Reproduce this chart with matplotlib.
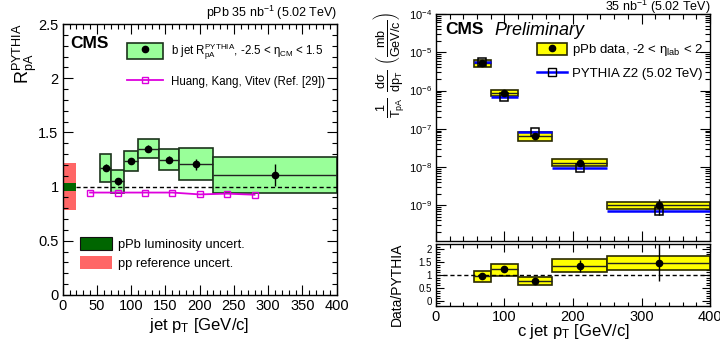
import matplotlib
matplotlib.use('Agg')
import matplotlib.pyplot as plt
import numpy as np
from matplotlib.patches import Patch
from matplotlib.lines import Line2D
from matplotlib.ticker import MultipleLocator, FuncFormatter, LogLocator, NullFormatter

plt.rcParams['font.family'] = ['Liberation Sans', 'DejaVu Sans']
plt.rcParams['mathtext.fontset'] = 'custom'
plt.rcParams['mathtext.rm'] = 'Liberation Sans'
plt.rcParams['mathtext.it'] = 'Liberation Sans:italic'
plt.rcParams['mathtext.bf'] = 'Liberation Sans:bold'
plt.rcParams['mathtext.sf'] = 'Liberation Sans'
plt.rcParams['mathtext.default'] = 'rm'

# ---------------- data: left panel (b jet RpA) ----------------
b_bin_lo = np.array([55, 70, 90, 110, 140, 170, 220])
b_bin_hi = np.array([70, 90, 110, 140, 170, 220, 400])
b_rpa = np.array([1.176, 1.048, 1.238, 1.351, 1.250, 1.207, 1.106])
b_sys_lo = np.array([1.045, 0.940, 1.143, 1.262, 1.149, 1.057, 0.937])
b_sys_hi = np.array([1.305, 1.149, 1.333, 1.437, 1.345, 1.357, 1.271])
b_stat = np.array([0.03, 0.03, 0.03, 0.03, 0.03, 0.05, 0.10])

theory_pt = np.array([40, 80, 120, 160, 200, 240, 280])
theory_rpa = np.array([0.945, 0.945, 0.945, 0.945, 0.928, 0.935, 0.925])

lumi_unc = 0.036
pp_ref_unc = 0.22
unc_band_pt = [0, 20]

# ---------------- data: right panel (c jet spectrum) ----------------
c_bin_lo = np.array([55, 80, 120, 170, 250])
c_bin_hi = np.array([80, 120, 170, 250, 400])
c_data = np.array([5.2e-6, 8.4e-7, 6.3e-8, 1.3e-8, 1.02e-9])
c_sys_lo = np.array([4.1e-6, 7.1e-7, 4.9e-8, 1.07e-8, 7.9e-10])
c_sys_hi = np.array([6.2e-6, 1.03e-6, 8.3e-8, 1.58e-8, 1.2e-9])
c_stat = np.array([0.2e-6, 0.3e-7, 0.3e-8, 0.15e-8, 0.45e-9])
c_pythia = np.array([5.5e-6, 6.9e-7, 8.2e-8, 9.6e-9, 6.95e-10])

ratio = np.array([0.95, 1.22, 0.76, 1.36, 1.47])
ratio_sys_lo = np.array([0.74, 0.97, 0.60, 1.12, 1.18])
ratio_sys_hi = np.array([1.14, 1.43, 0.91, 1.62, 1.74])
ratio_stat = np.array([0.10, 0.06, 0.05, 0.24, 0.72])

W, H = 720, 354
fig = plt.figure(figsize=(7.2, 3.54), dpi=100)

def px_axes(x0, y0, x1, y1):
    return fig.add_axes([x0 / W, 1 - y1 / H, (x1 - x0) / W, (y1 - y0) / H])

def style_ticks(ax, fs):
    ax.tick_params(which='both', direction='in', top=True, right=True, labelsize=fs, pad=3)
    ax.tick_params(which='major', length=7, width=0.8)
    ax.tick_params(which='minor', length=3.5, width=0.8)
    for s in ax.spines.values():
        s.set_linewidth(1.0)

fmt_g = FuncFormatter(lambda v, p: '%g' % v)

# ================= left panel =================
axL = px_axes(62.7, 24, 336.7, 295)
axL.set_xlim(0, 400)
axL.set_ylim(0, 2.5)

axL.bar(unc_band_pt[0], 2 * pp_ref_unc, bottom=1 - pp_ref_unc,
        width=unc_band_pt[1] - unc_band_pt[0], align='edge', color='#ff6666', lw=0, zorder=1)
axL.bar(unc_band_pt[0], 2 * lumi_unc, bottom=1 - lumi_unc,
        width=unc_band_pt[1] - unc_band_pt[0], align='edge', color='#006600', lw=0, zorder=2)

axL.bar(b_bin_lo, b_sys_hi - b_sys_lo, bottom=b_sys_lo, width=b_bin_hi - b_bin_lo,
        align='edge', facecolor='#99ff99', edgecolor='#1c331c', lw=1.2, zorder=2)
axL.hlines(b_rpa, b_bin_lo, b_bin_hi, color='#222222', lw=1.0, zorder=3)
axL.hlines(1, unc_band_pt[1], 400, color='black', lw=1.0, linestyles=(0, (3, 2)), zorder=4)
axL.plot(theory_pt, theory_rpa, color='#dd00dd', lw=1.3, marker='s', mfc='none',
         mec='#dd00dd', ms=5, mew=1.0, zorder=5)
axL.errorbar((b_bin_lo + b_bin_hi) / 2, b_rpa, yerr=b_stat, fmt='o', color='black',
             ms=4.5, elinewidth=1.0, capsize=0, zorder=6)

axL.xaxis.set_major_locator(MultipleLocator(50))
axL.xaxis.set_minor_locator(MultipleLocator(10))
axL.yaxis.set_major_locator(MultipleLocator(0.5))
axL.yaxis.set_minor_locator(MultipleLocator(0.1))
axL.xaxis.set_major_formatter(fmt_g)
axL.yaxis.set_major_formatter(fmt_g)
style_ticks(axL, 10.5)

axL.text(0.028, 0.955, 'CMS', transform=axL.transAxes, fontsize=12.5, fontweight='bold',
         ha='left', va='top')
fig.text(337 / W, 1 - 17 / H, r'pPb 35 nb$^{-1}$ (5.02 TeV)', fontsize=9, ha='right', va='baseline')
fig.text(25 / W, 1 - 23 / H, r'$R_{pA}^{PYTHIA}$', fontsize=13, rotation=90, ha='center', va='top')
fig.text(199 / W, 1 - 330 / H, r'jet p$_{T}$ [GeV/c]', fontsize=12, ha='center', va='baseline')

h1 = (Patch(facecolor='#99ff99', edgecolor='#1c331c', lw=1.2),
      Line2D([], [], marker='o', color='black', ls='none', ms=4.5))
h2 = Line2D([], [], color='#dd00dd', lw=1.3, marker='s', mfc='none', mec='#dd00dd', ms=5)
leg1 = axL.legend([h1, h2], [r'b jet R$_{pA}^{PYTHIA}$, -2.5 < $\eta_{CM}$ < 1.5',
                             'Huang, Kang, Vitev (Ref. [29])'],
                  loc='upper left', bbox_to_anchor=(0.234, 0.935), frameon=False,
                  fontsize=8.3, handlelength=3.1, handleheight=1.7, handletextpad=0.7,
                  labelspacing=1.0, borderpad=0, borderaxespad=0)
axL.add_artist(leg1)

h3 = Patch(facecolor='#006600', edgecolor='#111111', lw=0.8)
h4 = Patch(facecolor='#ff6666', edgecolor='#111111', lw=0.0)
axL.legend([h3, h4], ['pPb luminosity uncert.', 'pp reference uncert.'],
           loc='upper left', bbox_to_anchor=(0.063, 0.215), frameon=False,
           fontsize=9.3, handlelength=2.5, handleheight=1.15, handletextpad=0.45,
           labelspacing=0.45, borderpad=0, borderaxespad=0)

# ================= right panel: spectrum =================
axR = px_axes(436, 14, 710, 240.5)
axR.set_xlim(0, 400)
axR.set_yscale('log')
axR.set_ylim(1.2e-10, 1e-4)

axR.bar(c_bin_lo, c_sys_hi - c_sys_lo, bottom=c_sys_lo, width=c_bin_hi - c_bin_lo,
        align='edge', facecolor='#ffff00', edgecolor='#2a2a00', lw=1.2, zorder=2)
axR.hlines(c_data, c_bin_lo, c_bin_hi, color='#222222', lw=1.0, zorder=3)
axR.hlines(c_pythia, c_bin_lo, c_bin_hi, color='#0000ff', lw=1.8, zorder=4)
axR.plot((c_bin_lo + c_bin_hi) / 2, c_pythia, ls='none', marker='s', mfc='none',
         mec='black', ms=5.5, mew=1.1, zorder=5)
axR.errorbar((c_bin_lo + c_bin_hi) / 2, c_data, yerr=c_stat, fmt='o', color='black',
             ms=4.5, elinewidth=1.0, capsize=0, zorder=6)

axR.xaxis.set_major_locator(MultipleLocator(100))
axR.xaxis.set_minor_locator(MultipleLocator(20))
axR.yaxis.set_major_locator(LogLocator(base=10, numticks=20))
axR.yaxis.set_minor_locator(LogLocator(base=10, subs=np.arange(2, 10), numticks=20))
axR.yaxis.set_minor_formatter(NullFormatter())
style_ticks(axR, 8)
axR.tick_params(axis='x', labelbottom=False)

axR.text(0.035, 0.965, 'CMS', transform=axR.transAxes, fontsize=12.5, fontweight='bold',
         ha='left', va='top')
axR.text(0.215, 0.965, 'Preliminary', transform=axR.transAxes, fontsize=13, style='italic',
         ha='left', va='top')
fig.text(710 / W, 1 - 11 / H, r'35 nb$^{-1}$ (5.02 TeV)', fontsize=9, ha='right', va='baseline')
fig.text(389 / W, 1 - 12 / H,
         r'$\frac{1}{T_{pA}}\ \frac{d\sigma}{dp_{T}}\ \left(\frac{mb}{GeV/c}\right)$',
         fontsize=13, rotation=90, ha='center', va='top')

h5 = (Patch(facecolor='#ffff00', edgecolor='#2a2a00', lw=1.2),
      Line2D([], [], marker='o', color='black', ls='none', ms=4.5))
h6 = Line2D([], [], color='#0000ff', lw=1.8, marker='s', mfc='none', mec='black', ms=5.5)
axR.legend([h5, h6], [r'pPb data, -2 < $\eta_{lab}$ < 2', 'PYTHIA Z2 (5.02 TeV)'],
           loc='upper left', bbox_to_anchor=(0.3675, 0.875), frameon=False,
           fontsize=9.5, handlelength=2.3, handleheight=1.05, handletextpad=0.35,
           labelspacing=0.6, borderpad=0, borderaxespad=0)

# ================= right panel: ratio =================
axRt = px_axes(436, 244, 710, 306)
axRt.set_xlim(0, 400)
axRt.set_ylim(-0.2, 2.2)
axRt.bar(c_bin_lo, ratio_sys_hi - ratio_sys_lo, bottom=ratio_sys_lo, width=c_bin_hi - c_bin_lo,
         align='edge', facecolor='#ffff00', edgecolor='#2a2a00', lw=1.2, zorder=2)
axRt.hlines(ratio, c_bin_lo, c_bin_hi, color='#222222', lw=1.0, zorder=3)
axRt.hlines(1, 0, 400, color='black', lw=1.0, linestyles=(0, (3, 2)), zorder=4)
axRt.errorbar((c_bin_lo + c_bin_hi) / 2, ratio, yerr=ratio_stat, fmt='o', color='black',
              ms=4.5, elinewidth=1.0, capsize=0, zorder=6)
axRt.xaxis.set_major_locator(MultipleLocator(100))
axRt.xaxis.set_minor_locator(MultipleLocator(20))
axRt.yaxis.set_major_locator(MultipleLocator(0.5))
axRt.yaxis.set_minor_locator(MultipleLocator(0.1))
axRt.xaxis.set_major_formatter(fmt_g)
axRt.yaxis.set_major_formatter(fmt_g)
style_ticks(axRt, 7)
axRt.tick_params(axis='x', labelsize=10.5)
axRt.tick_params(which='major', length=6)
axRt.tick_params(which='minor', length=3)

fig.text(397 / W, 1 - 243 / H, 'Data/PYTHIA', fontsize=10, rotation=90, ha='center', va='top')
fig.text(573 / W, 1 - 336 / H, r'c jet p$_{T}$ [GeV/c]', fontsize=12, ha='center', va='baseline')

fig.savefig('out.png', dpi=100)
